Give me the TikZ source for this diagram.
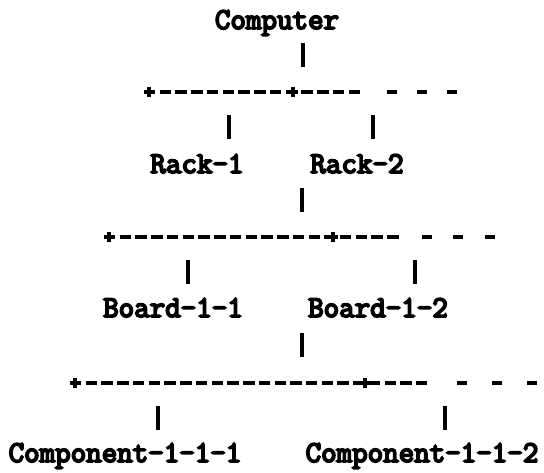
\documentclass[tikz,border=0pt]{standalone}
\usepackage{fontspec}
\newfontfamily\asciifont{Latin Modern Mono}[FakeBold=6]
\begin{document}
\begin{tikzpicture}[x=0.75pt,y=-0.75pt,
  lbl/.style={anchor=base, inner sep=0pt, font=\asciifont\fontsize{22.6pt}{24pt}\selectfont},
  bar/.style={line width=3pt},
  hline/.style={line width=2.8pt, dash pattern=on 8.6pt off 3.2pt},
  tick/.style={line width=2.8pt},
  plusmark/.style={line width=3pt}]
\useasboundingbox (0,0) rectangle (544,473);
% labels
\node[lbl] (comp)   at (277,29)  {Computer};
\node[lbl] (rack1)  at (197,173) {Rack-1};
\node[lbl] (rack2)  at (357,173) {Rack-2};
\node[lbl] (board1) at (173,317) {Board-1-1};
\node[lbl] (board2) at (378,317) {Board-1-2};
\node[lbl] (cmp1)   at (125,462) {Component-1-1-1};
\node[lbl] (cmp2)   at (422,462) {Component-1-1-2};
% vertical strokes
\foreach \n/\x/\y in {v0/303/55, v1/229/127, v2/373/127, v3/302/200,
                      v4/188/272, v5/415/272, v6/302/345, v7/158/418, v8/445/418}{
  \coordinate (\n a) at (\x,\y-12);
  \coordinate (\n b) at (\x,\y+12);
  \draw[bar] (\n a) -- (\n b);
}
% horizontal dashed rails: plus1, plus2, end of solid part, y, trailing dashes
\foreach \n/\pa/\pb/\e/\y/\ta/\tb/\tc in {h1/149/293/362/92/392/422/452,
                                          h2/109/333/402/237/427/458/490,
                                          h3/75/365/427/383/462/497/532}{
  \coordinate (\n a) at (\pa,\y);
  \coordinate (\n b) at (\pb,\y);
  \coordinate (\n e) at (\e,\y);
  \draw[hline] ([xshift=-3.75pt]\n a) -- (\n e);
  \foreach \p in {\n a,\n b}{
    \draw[plusmark] ([yshift=-3.75pt]\p) -- ([yshift=3.75pt]\p)
                    ([xshift=-3.75pt]\p) -- ([xshift=3.75pt]\p);
  }
  \foreach \t in {\ta,\tb,\tc}{
    \draw[tick] (\t-5,\y) -- (\t+5,\y);
  }
}
\end{tikzpicture}
\end{document}
